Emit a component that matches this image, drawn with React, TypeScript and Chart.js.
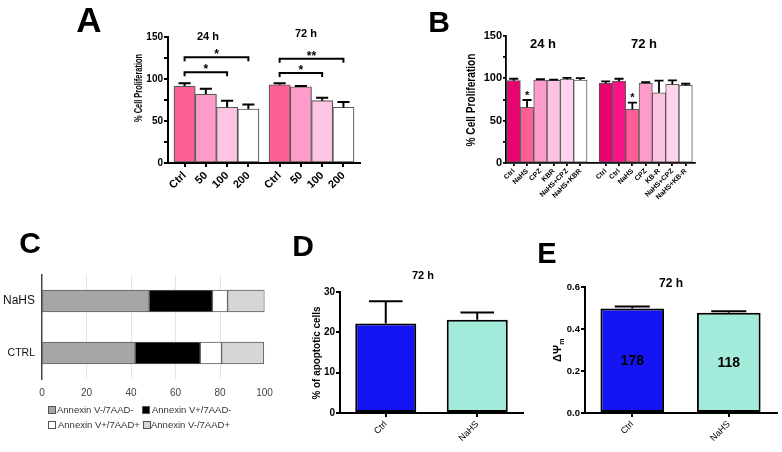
import React, { useEffect, useRef } from "react";
import { Chart, registerables } from "chart.js";
Chart.register(...registerables);

const W = 782;
const H = 452;
const FONT = "Arial, 'Liberation Sans', Helvetica, sans-serif";

// ---------------- Panel A data ----------------
const aLabels = ["Ctrl", "50", "100", "200"];
const aTimeTitles = ["24 h", "72 h"];
const a24h = [91.6, 82.0, 66.4, 64.3];
const a24hErr = [3.2, 6.4, 7.8, 5.2];
const a72h = [93.2, 90.8, 74.2, 66.4];
const a72hErr = [1.8, 0.8, 3.6, 6.2];
const aBracketFrom = [0, 0, 4, 4];
const aBracketTo = [2, 3, 6, 7];
const aBracketLevel = [108, 126, 107, 124];
const aBracketStars = ["*", "*", "*", "**"];
const aColors = ["#fb6195", "#fd9bca", "#fec5e2", "#ffffff"];

// ---------------- Panel B data ----------------
const b24Labels = ["Ctrl", "NaHS", "CPZ", "KBR", "NaHS+CPZ", "NaHS+KBR"];
const b24h = [97.2, 65.8, 97.9, 97.5, 99.0, 97.9];
const b24hErr = [2.3, 8.6, 1.0, 1.0, 1.6, 2.4];
const b72Labels = ["Ctrl", "Ctrl", "NaHS", "CPZ", "KB-R", "NaHS+CPZ", "NaHS+KB-R"];
const b72h = [94.0, 96.7, 63.4, 94.0, 83.0, 92.8, 91.6];
const b72hErr = [2.4, 2.8, 7.8, 1.6, 14.2, 4.7, 2.0];
const bStarBars = [1, 8];
const bTimeTitles = ["24 h", "72 h"];
const b24Colors = ["#e8036f", "#fd5f95", "#fd9ccb", "#fec3e1", "#ffd2f0", "#ffffff"];
const b72Colors = ["#e8036f", "#fb1486", "#fd5f95", "#fd9ccb", "#fec3e1", "#ffd2f0", "#ffffff"];

// ---------------- Panel C data ----------------
const cCategories = ["NaHS", "CTRL"];
const cSeries = ["Annexin V-/7AAD-", "Annexin V+/7AAD-", "Annexin V+/7AAD+", "Annexin V-/7AAD+"];
const cNegNeg = [48.2, 41.9];
const cPosNeg = [28.4, 29.2];
const cPosPos = [6.8, 9.6];
const cNegPos = [16.6, 19.0];
const cColors = ["#a6a6a6", "#000000", "#ffffff", "#d6d6d6"];

// ---------------- Panel D data ----------------
const dLabels = ["Ctrl", "NaHS"];
const dApoptotic = [22.2, 23.1];
const dApoptoticErr = [5.5, 1.8];

// ---------------- Panel E data ----------------
const eLabels = ["Ctrl", "NaHS"];
const eDeltaPsi = [0.498, 0.477];
const eDeltaPsiErr = [0.009, 0.008];
const eCounts = ["178", "118"];

const deColors = ["#1414f2", "#a2ead9"];

// ---------------- helpers ----------------
type Frame = { L: number; T: number; R: number; B: number; yw: number; xh: number };
function framePadding(f: Frame) {
  return { left: f.L - f.yw, top: f.T, right: W - f.R, bottom: H - f.B - f.xh };
}
const fitY = (w: number) => (s: any) => {
  s.width = w;
  s.paddingTop = 0;
  s.paddingBottom = 0;
};
const fitX = (h: number) => (s: any) => {
  s.height = h;
  s.paddingLeft = 0;
  s.paddingRight = 0;
};

function drawText(ctx: any, text: string, x: number, y: number, o: any) {
  ctx.save();
  ctx.font = `${o.bold ? "bold " : ""}${o.size}px ${FONT}`;
  ctx.fillStyle = o.color || "#000";
  ctx.textAlign = o.align || "center";
  ctx.textBaseline = o.baseline || "alphabetic";
  ctx.translate(x, y);
  if (o.rot) ctx.rotate(o.rot);
  if (o.fit) {
    const m = ctx.measureText(text).width;
    ctx.scale(o.fit / m, 1);
  }
  ctx.fillText(text, 0, 0);
  ctx.restore();
}

function drawErrorBars(ctx: any, bars: any[], values: number[], errs: number[], yScale: any, capRatio: number, lw: number) {
  ctx.save();
  ctx.strokeStyle = "#000";
  ctx.lineWidth = lw;
  bars.forEach((el: any, i: number) => {
    if (!errs[i]) return;
    const top = yScale.getPixelForValue(values[i] + errs[i]);
    const base = yScale.getPixelForValue(values[i]);
    const half = (el.width * capRatio) / 2;
    ctx.beginPath();
    ctx.moveTo(el.x, base);
    ctx.lineTo(el.x, top);
    ctx.moveTo(el.x - half, top);
    ctx.lineTo(el.x + half, top);
    ctx.stroke();
  });
  ctx.restore();
}

function verticalBars(o: any) {
  const axisGrid = {
    display: true,
    drawOnChartArea: false,
    drawTicks: true,
    tickLength: o.tickLen,
    color: "#000",
    lineWidth: o.axisW,
    offset: false,
  };
  return {
    type: "bar",
    data: {
      datasets: [
        {
          data: o.positions.map((x: number, i: number) => ({ x, y: o.values[i] })),
          backgroundColor: o.colors,
          borderColor: o.borderColor,
          borderWidth: o.borderW,
          borderSkipped: false,
          barPercentage: o.barPct,
          categoryPercentage: 1,
        },
      ],
    },
    options: {
      responsive: false,
      animation: false,
      devicePixelRatio: 1,
      layout: { padding: framePadding(o.frame) },
      plugins: { legend: { display: false }, tooltip: { enabled: false }, title: { display: false } },
      scales: {
        x: {
          type: "linear",
          offset: false,
          min: o.xMin,
          max: o.xMax,
          afterBuildTicks: (s: any) => {
            s.ticks = o.positions.map((v: number) => ({ value: v }));
          },
          afterFit: fitX(o.frame.xh),
          ticks: {
            autoSkip: false,
            minRotation: 45,
            maxRotation: 45,
            font: o.xFont,
            color: "#000",
            padding: o.xLabelPad,
            callback: (_v: any, i: number) => o.labels[i],
          },
          grid: axisGrid,
          border: { display: true, color: "#000", width: o.axisW },
        },
        y: {
          type: "linear",
          min: 0,
          max: o.yMax,
          afterFit: fitY(o.frame.yw),
          ticks: { stepSize: o.yStep, font: o.yFont, color: "#000", padding: 1, callback: o.yLabel },
          grid: axisGrid,
          border: { display: true, color: "#000", width: o.axisW },
        },
      },
    },
    plugins: o.plugins,
  };
}

// ---------------- Panel configs ----------------
function configA() {
  const A_GAP = 0.47;
  const positions = [...a24h.map((_, i) => i), ...a72h.map((_, i) => i + a24h.length + A_GAP)];
  const values = [...a24h, ...a72h];
  const errs = [...a24hErr, ...a72hErr];
  const plugin = {
    id: "annotA",
    afterDatasetsDraw(chart: any) {
      const ctx = chart.ctx;
      const y = chart.scales.y;
      const bars = chart.getDatasetMeta(0).data;
      drawErrorBars(ctx, bars, values, errs, y, 0.57, 2);
      ctx.save();
      ctx.strokeStyle = "#000";
      ctx.lineWidth = 2;
      aBracketFrom.forEach((f, k) => {
        const x1 = bars[f].x;
        const x2 = bars[aBracketTo[k]].x;
        const yy = y.getPixelForValue(aBracketLevel[k]);
        ctx.beginPath();
        ctx.moveTo(x1, yy + 4);
        ctx.lineTo(x1, yy);
        ctx.lineTo(x2, yy);
        ctx.lineTo(x2, yy + 4);
        ctx.stroke();
        drawText(ctx, aBracketStars[k], (x1 + x2) / 2, yy + 1, { size: 12, bold: true });
      });
      ctx.restore();
      drawText(ctx, aTimeTitles[0], 208, 40, { size: 11, bold: true });
      drawText(ctx, aTimeTitles[1], 306, 37, { size: 11, bold: true });
      drawText(ctx, "A", 89, 32, { size: 35, bold: true });
      drawText(ctx, "% Cell Proliferation", 139, 88, { size: 11, bold: true, rot: -Math.PI / 2, baseline: "middle", fit: 68 });
    },
  };
  return verticalBars({
    frame: { L: 168, T: 37, R: 360, B: 163, yw: 40, xh: 40 },
    positions,
    values,
    colors: [...aColors, ...aColors],
    labels: [...aLabels, ...aLabels],
    xMin: -0.78,
    xMax: 8.25,
    yMax: 150,
    yStep: 25,
    yLabel: (v: number) => (v % 50 === 0 ? String(v) : ""),
    barPct: 1,
    borderW: 1.2,
    borderColor: "#5a5a5a",
    xFont: { family: FONT, size: 11, weight: "bold" },
    yFont: { family: FONT, size: 10, weight: "bold" },
    tickLen: 4,
    axisW: 2,
    xLabelPad: 2,
    plugins: [plugin],
  });
}

function configB() {
  const B_GAP = 0.9;
  const positions = [...b24h.map((_, i) => i), ...b72h.map((_, i) => i + b24h.length + B_GAP)];
  const values = [...b24h, ...b72h];
  const errs = [...b24hErr, ...b72hErr];
  const plugin = {
    id: "annotB",
    afterDatasetsDraw(chart: any) {
      const ctx = chart.ctx;
      const y = chart.scales.y;
      const bars = chart.getDatasetMeta(0).data;
      drawErrorBars(ctx, bars, values, errs, y, 0.68, 1.8);
      bStarBars.forEach((i) => {
        const top = y.getPixelForValue(values[i] + errs[i]);
        drawText(ctx, "*", bars[i].x, top - 1.5, { size: 11, bold: true });
      });
      drawText(ctx, bTimeTitles[0], 543, 48, { size: 13, bold: true });
      drawText(ctx, bTimeTitles[1], 644, 48, { size: 13, bold: true });
      drawText(ctx, "B", 439, 32, { size: 30, bold: true });
      drawText(ctx, "% Cell Proliferation", 472, 100, { size: 12, bold: true, rot: -Math.PI / 2, baseline: "middle", fit: 93 });
    },
  };
  return verticalBars({
    frame: { L: 506, T: 36, R: 695, B: 163, yw: 40, xh: 40 },
    positions,
    values,
    colors: [...b24Colors, ...b72Colors],
    labels: [...b24Labels, ...b72Labels],
    xMin: -0.58,
    xMax: 13.6,
    yMax: 150,
    yStep: 25,
    yLabel: (v: number) => (v % 50 === 0 ? String(v) : ""),
    barPct: 1,
    borderW: 1,
    borderColor: "#5a5a5a",
    xFont: { family: FONT, size: 7, weight: "bold" },
    yFont: { family: FONT, size: 11, weight: "bold" },
    tickLen: 3,
    axisW: 1.8,
    xLabelPad: 1,
    plugins: [plugin],
  });
}

function configC() {
  const frame = { L: 42, T: 275, R: 264.5, B: 379, yw: 42, xh: 30 };
  const seriesData = [cNegNeg, cPosNeg, cPosPos, cNegPos];
  const legendPos = [
    { bx: 48, tx: 57, y: 410 },
    { bx: 142, tx: 152, y: 410 },
    { bx: 48, tx: 58, y: 425 },
    { bx: 143, tx: 151, y: 425 },
  ];
  const plugin = {
    id: "annotC",
    afterDraw(chart: any) {
      const ctx = chart.ctx;
      drawText(ctx, "C", 30, 253, { size: 30, bold: true });
      cSeries.forEach((name, i) => {
        const p = legendPos[i];
        ctx.save();
        ctx.fillStyle = cColors[i];
        ctx.strokeStyle = "#555";
        ctx.lineWidth = 1;
        ctx.fillRect(p.bx, p.y - 3.5, 7, 7);
        ctx.strokeRect(p.bx + 0.5, p.y - 3.5, 7, 7);
        ctx.restore();
        drawText(ctx, name, p.tx, p.y, { size: 9.5, align: "left", baseline: "middle", color: "#333" });
      });
    },
  };
  return {
    type: "bar",
    data: {
      labels: cCategories,
      datasets: seriesData.map((d, i) => ({
        label: cSeries[i],
        data: d,
        backgroundColor: cColors[i],
        borderColor: "#5c5c5c",
        borderWidth: 1,
        borderSkipped: false,
        barThickness: 22,
      })),
    },
    options: {
      indexAxis: "y",
      responsive: false,
      animation: false,
      devicePixelRatio: 1,
      layout: { padding: framePadding(frame) },
      plugins: { legend: { display: false }, tooltip: { enabled: false } },
      scales: {
        x: {
          stacked: true,
          min: 0,
          max: 100,
          afterFit: fitX(frame.xh),
          ticks: { stepSize: 20, font: { family: FONT, size: 10 }, color: "#444", padding: 8 },
          grid: {
            drawTicks: false,
            lineWidth: 1,
            color: (c: any) => (c.tick && c.tick.value > 0 && c.tick.value < 100 ? "#e4e4e4" : "rgba(0,0,0,0)"),
          },
          border: { display: false },
        },
        y: {
          stacked: true,
          afterFit: fitY(frame.yw),
          ticks: {
            font: (c: any) => ({ family: FONT, size: c.index === 0 ? 12 : 10.5 }),
            color: "#111",
            padding: 7,
          },
          grid: { display: false, drawTicks: false },
          border: { display: true, color: "#444", width: 1.5 },
        },
      },
    },
    plugins: [plugin],
  };
}

function configD() {
  const plugin = {
    id: "annotD",
    afterDatasetsDraw(chart: any) {
      const ctx = chart.ctx;
      const bars = chart.getDatasetMeta(0).data;
      drawErrorBars(ctx, bars, dApoptotic, dApoptoticErr, chart.scales.y, 0.55, 2);
      drawText(ctx, "72 h", 423, 279, { size: 11, bold: true });
      drawText(ctx, "D", 303, 256, { size: 30, bold: true });
      drawText(ctx, "% of apoptotic cells", 317, 353, { size: 10, bold: true, rot: -Math.PI / 2, baseline: "middle", fit: 93 });
    },
  };
  return verticalBars({
    frame: { L: 340, T: 292, R: 523, B: 413, yw: 30, xh: 30 },
    positions: dApoptotic.map((_, i) => i),
    values: dApoptotic,
    colors: deColors,
    labels: dLabels,
    xMin: -0.5,
    xMax: 1.5,
    yMax: 30,
    yStep: 10,
    yLabel: (v: number) => String(v),
    barPct: 0.667,
    borderW: 2,
    borderColor: "#000",
    xFont: { family: FONT, size: 9 },
    yFont: { family: FONT, size: 10, weight: "bold" },
    tickLen: 4,
    axisW: 2,
    xLabelPad: 2,
    plugins: [plugin],
  });
}

function configE() {
  const plugin = {
    id: "annotE",
    afterDatasetsDraw(chart: any) {
      const ctx = chart.ctx;
      const bars = chart.getDatasetMeta(0).data;
      drawErrorBars(ctx, bars, eDeltaPsi, eDeltaPsiErr, chart.scales.y, 0.55, 2);
      bars.forEach((el: any, i: number) => {
        drawText(ctx, eCounts[i], el.x, (el.y + el.base) / 2 + 5, { size: 14, bold: true });
      });
      drawText(ctx, "72 h", 671, 287, { size: 12, bold: true });
      drawText(ctx, "E", 547, 263, { size: 29, bold: true });
      // ΔΨm axis title
      ctx.save();
      ctx.translate(561, 351);
      ctx.rotate(-Math.PI / 2);
      ctx.fillStyle = "#000";
      ctx.textBaseline = "alphabetic";
      ctx.textAlign = "left";
      ctx.font = `bold 11px ${FONT}`;
      ctx.fillText("ΔΨ", -11, 0);
      const w = ctx.measureText("ΔΨ").width;
      ctx.font = `bold 7px ${FONT}`;
      ctx.fillText("m", -11 + w + 0.5, 3);
      ctx.restore();
    },
  };
  return verticalBars({
    frame: { L: 585, T: 287, R: 777, B: 413, yw: 30, xh: 30 },
    positions: eDeltaPsi.map((_, i) => i),
    values: eDeltaPsi,
    colors: deColors,
    labels: eLabels,
    xMin: -0.49,
    xMax: 1.5,
    yMax: 0.6,
    yStep: 0.2,
    yLabel: (v: number) => v.toFixed(1),
    barPct: 0.66,
    borderW: 2,
    borderColor: "#000",
    xFont: { family: FONT, size: 9 },
    yFont: { family: FONT, size: 9.5, weight: "bold" },
    tickLen: 4,
    axisW: 2,
    xLabelPad: 2,
    plugins: [plugin],
  });
}

export default function App() {
  const r0 = useRef<HTMLCanvasElement>(null);
  const r1 = useRef<HTMLCanvasElement>(null);
  const r2 = useRef<HTMLCanvasElement>(null);
  const r3 = useRef<HTMLCanvasElement>(null);
  const r4 = useRef<HTMLCanvasElement>(null);
  const refs = [r0, r1, r2, r3, r4];
  useEffect(() => {
    const cfgs = [configA(), configB(), configC(), configD(), configE()];
    const charts = cfgs.map((cfg, i) => new Chart(refs[i].current as HTMLCanvasElement, cfg as any));
    return () => charts.forEach((c) => c.destroy());
  }, []);
  return (
    <div style={{ position: "fixed", left: 0, top: 0, width: W, height: H, background: "#fff", overflow: "hidden" }}>
      {refs.map((r, i) => (
        <canvas key={i} ref={r} width={W} height={H} style={{ position: "absolute", left: 0, top: 0, width: W, height: H }} />
      ))}
    </div>
  );
}
